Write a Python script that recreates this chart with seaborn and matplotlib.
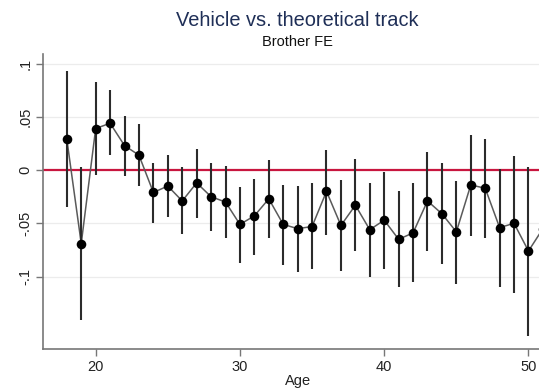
import matplotlib
matplotlib.use("Agg")
import matplotlib.pyplot as plt
import seaborn as sns
import pandas as pd

# Estimated age effects with 95% confidence bounds
ages = [18, 19, 20, 21, 22, 23, 24, 25, 26, 27, 28, 29, 30, 31, 32, 33, 34,
        35, 36, 37, 38, 39, 40, 41, 42, 43, 44, 45, 46, 47, 48, 49, 50, 51]
coef = [0.029, -0.069, 0.039, 0.044, 0.023, 0.014, -0.021, -0.015, -0.029,
        -0.012, -0.025, -0.030, -0.051, -0.043, -0.027, -0.051, -0.055,
        -0.053, -0.020, -0.052, -0.033, -0.056, -0.047, -0.065, -0.059,
        -0.029, -0.041, -0.058, -0.014, -0.017, -0.054, -0.050, -0.076, -0.055]
ci_low = [-0.035, -0.141, -0.005, 0.014, -0.006, -0.015, -0.050, -0.044, -0.060,
          -0.045, -0.057, -0.064, -0.087, -0.080, -0.064, -0.089, -0.096,
          -0.093, -0.061, -0.095, -0.076, -0.100, -0.093, -0.110, -0.105,
          -0.076, -0.088, -0.107, -0.062, -0.064, -0.110, -0.115, -0.156, -0.105]
ci_high = [0.093, 0.003, 0.083, 0.075, 0.051, 0.043, 0.007, 0.014, 0.003,
           0.020, 0.007, 0.004, -0.016, -0.008, 0.009, -0.014, -0.015,
           -0.012, 0.019, -0.009, 0.010, -0.012, -0.002, -0.020, -0.012,
           0.017, 0.007, -0.010, 0.033, 0.029, 0.001, 0.013, 0.003, -0.005]

y_ticks = [0.1, 0.05, 0.0, -0.05, -0.1]
y_tick_labels = [".1", ".05", "0", "-.05", "-.1"]
x_ticks = [20, 30, 40, 50]

df = pd.DataFrame({"age": ages, "coef": coef, "lo": ci_low, "hi": ci_high})

sns.set_theme(style="white")
plt.rcParams["font.family"] = ["Liberation Sans", "DejaVu Sans"]

fig = plt.figure(figsize=(5.39, 3.88), dpi=100)
ax = fig.add_axes([43.3 / 539, 39 / 388, 509.7 / 539, 295 / 388])

# Light horizontal grid and the zero reference line
for yv in y_ticks:
    if yv != 0:
        ax.axhline(yv, color="#ececec", lw=0.9, zorder=0)
ax.axhline(0, color="#c8163f", lw=1.6, zorder=1)

sns.lineplot(data=df, x="age", y="coef", ax=ax, color="#5a5a5a", lw=1.1,
             zorder=2, legend=False)
ax.vlines(df["age"], df["lo"], df["hi"], color="#2b2b2b", lw=1.5, zorder=3)
sns.scatterplot(data=df, x="age", y="coef", ax=ax, color="black", s=48,
                edgecolor="black", linewidth=0, zorder=4, legend=False)

ax.set_xlim(16.37, 51.7)
ax.set_ylim(-0.168, 0.109)
ax.set_xticks(x_ticks)
ax.set_xticklabels([str(t) for t in x_ticks], fontsize=10.5, color="#222222")
ax.set_yticks(y_ticks)
ax.set_yticklabels(y_tick_labels, rotation=90, va="center", fontsize=10.5,
                   color="#222222")
ax.tick_params(axis="both", which="both", direction="out", length=5,
               width=1.0, color="#777777", left=True, bottom=True, pad=3)
ax.set_xlabel("Age", fontsize=10.5, color="#222222", labelpad=0)
ax.set_ylabel("")

for side in ("top", "right"):
    ax.spines[side].set_visible(False)
for side in ("left", "bottom"):
    ax.spines[side].set_color("#777777")
    ax.spines[side].set_linewidth(1.2)

fig.text(297.5 / 539, 1 - 21 / 388, "Vehicle vs. theoretical track",
         ha="center", va="center", fontsize=14.4, color="#1f2f57")
fig.text(297.5 / 539, 1 - 42 / 388, "Brother FE",
         ha="center", va="center", fontsize=10.5, color="#111111")

fig.savefig("out.png", dpi=100, facecolor="white")
